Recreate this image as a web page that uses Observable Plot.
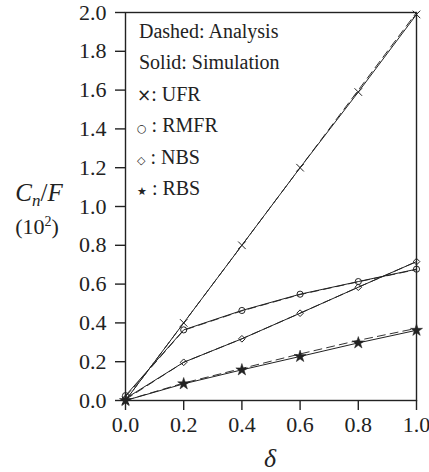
<!DOCTYPE html>
<html><head><meta charset="utf-8">
<script src="https://cdn.jsdelivr.net/npm/d3@7"></script>
<script src="https://cdn.jsdelivr.net/npm/@observablehq/plot@0.6"></script>
<style>
body{margin:0;background:#fff}
#chart svg{font-family:"Liberation Serif",serif;}
</style>
</head><body><div id="chart"></div>
<script>
const delta = [0, 0.2, 0.4, 0.6, 0.8, 1.0];
const seriesNames = ["UFR", "RMFR", "NBS", "RBS"];
const ufrSim  = [0, 0.40, 0.80, 1.20, 1.59, 1.99];
const rmfrSim = [0.025, 0.364, 0.464, 0.548, 0.613, 0.677];
const nbsSim  = [0.01, 0.197, 0.318, 0.450, 0.584, 0.716];
const rbsSim  = [0, 0.086, 0.158, 0.227, 0.297, 0.362];
const ufrAna  = [0, 0.40, 0.80, 1.20, 1.60, 2.00];
const rmfrAna = [0.02, 0.362, 0.462, 0.546, 0.612, 0.675];
const nbsAna  = [0.005, 0.197, 0.318, 0.450, 0.584, 0.716];
const rbsAna  = [0, 0.090, 0.165, 0.240, 0.310, 0.372];
const xTicks = [0, 0.2, 0.4, 0.6, 0.8, 1.0];
const yTicks = [0, 0.2, 0.4, 0.6, 0.8, 1.0, 1.2, 1.4, 1.6, 1.8, 2.0];
const legendHeader = ["Dashed: Analysis", "Solid: Simulation"];
const legendGlyphs = ["×", "○", "◇", "★"];

const simArrays = [ufrSim, rmfrSim, nbsSim, rbsSim];
const anaArrays = [ufrAna, rmfrAna, nbsAna, rbsAna];
const sim = [], ana = [];
seriesNames.forEach((s, i) => {
  delta.forEach((d, j) => {
    sim.push({series: s, delta: d, value: simArrays[i][j]});
    ana.push({series: s, delta: d, value: anaArrays[i][j]});
  });
});
const sym = {UFR: "times", RMFR: "circle", NBS: "diamond2", RBS: "star"};
const rad = {UFR: 5.5, RMFR: 4.2, NBS: 4, RBS: 3.8};

const fmt = d3.format(".1f");
const plot = Plot.plot({
  width: 429, height: 472,
  marginLeft: 125, marginRight: 13, marginTop: 12, marginBottom: 72,
  style: {fontFamily: "Liberation Serif, serif", fontSize: "22px", color: "#222", background: "#fff"},
  x: {domain: [0, 1], ticks: xTicks, tickFormat: fmt, label: null},
  y: {domain: [0, 2], ticks: yTicks, tickFormat: fmt, label: null},
  marks: [
    Plot.axisX({ticks: xTicks, tickFormat: fmt, tickSize: 10, tickPadding: 6, strokeWidth: 1.4, label: null, fontSize: 22}),
    Plot.axisY({ticks: yTicks, tickFormat: fmt, tickSize: 10, tickPadding: 9, strokeWidth: 1.4, label: null, fontSize: 22}),
    Plot.frame({stroke: "#222", strokeWidth: 1.4}),
    Plot.line(ana, {x: "delta", y: "value", z: "series", stroke: "#333", strokeWidth: 1, strokeDasharray: "8,5"}),
    Plot.line(sim, {x: "delta", y: "value", z: "series", stroke: "#222", strokeWidth: 1}),
    Plot.dot(sim.filter(d => d.series !== "RBS"), {x: "delta", y: "value", symbol: d => sym[d.series], r: d => rad[d.series], stroke: "#222", strokeWidth: 1, fill: "none"}),
    Plot.dot(sim.filter(d => d.series === "RBS"), {x: "delta", y: "value", symbol: "star", r: 3.8, fill: "#222", stroke: "#222", strokeWidth: 0.5})
  ]
});
document.getElementById("chart").appendChild(plot);

const svg = d3.select(plot);
const g = svg.append("g").attr("font-family", "Liberation Serif, serif").attr("fill", "#222").attr("text-anchor", "start");
legendHeader.forEach((t, i) => {
  g.append("text").attr("x", 139).attr("y", 31 + i * 31.4).attr("dy", "0.35em")
    .attr("text-anchor", "start").attr("font-size", 20).text(t);
});
seriesNames.forEach((s, i) => {
  const y = 31 + (i + 2) * 31.4;
  const t = g.append("text").attr("x", 137).attr("y", y).attr("dy", "0.35em").attr("text-anchor", "start").attr("font-size", 20);
  t.append("tspan").attr("font-family", "DejaVu Sans, sans-serif").attr("font-size", i === 0 ? 17 : 11).text(legendGlyphs[i]);
  t.append("tspan").text(i === 0 ? ": " + s : " : " + s);
});
// y label
const yl = g.append("text").attr("x", 39).attr("y", 192).attr("dy", "0.35em").attr("text-anchor", "middle").attr("font-size", 25);
yl.append("tspan").attr("font-style", "italic").text("C");
yl.append("tspan").attr("font-style", "italic").attr("font-size", 17).attr("dy", 5).text("n");
yl.append("tspan").attr("dy", -5).text("/");
yl.append("tspan").attr("font-style", "italic").text("F");
const yl2 = g.append("text").attr("x", 37).attr("y", 226).attr("dy", "0.35em").attr("text-anchor", "middle").attr("font-size", 22);
yl2.append("tspan").text("(10");
yl2.append("tspan").attr("font-size", 14).attr("dy", -8).text("2");
yl2.append("tspan").attr("dy", 8).text(")");
// x label
g.append("text").attr("x", 270).attr("y", 458).attr("dy", "0.35em").attr("text-anchor", "middle")
  .attr("font-size", 26).attr("font-style", "italic").text("δ");
</script>
</body></html>
